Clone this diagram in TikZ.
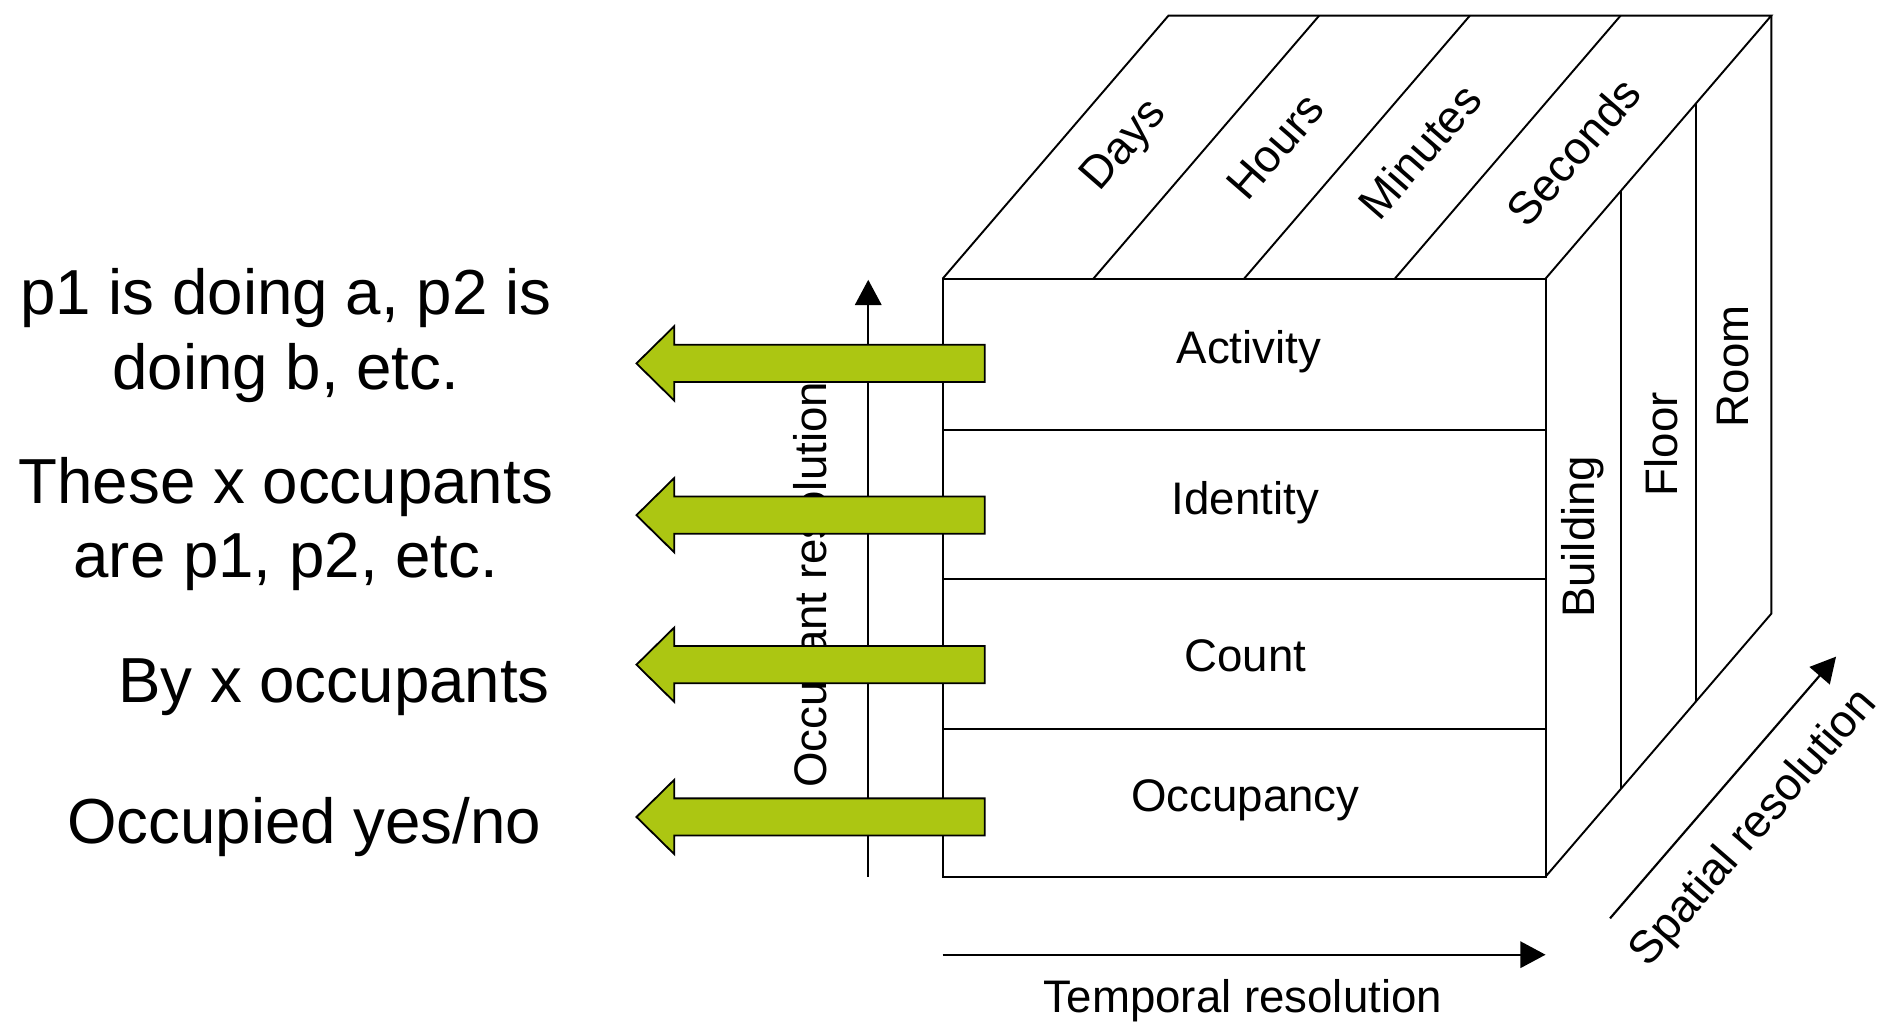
\documentclass[tikz,border=0pt]{standalone}
\usepackage{fontspec}
\setmainfont{Liberation Sans}
\usetikzlibrary{arrows.meta}
\definecolor{leaf}{RGB}{172,198,18}

\begin{document}
\begin{tikzpicture}[x=1pt,y=-1pt,
  edge/.style={line width=1.6pt, line join=miter},
  axis/.style={line width=1.8pt, -{Triangle[length=21pt,width=22pt]}},
  cubelabel/.style={font=\fontsize{38}{45}\selectfont, inner sep=0pt},
  note/.style={font=\fontsize{53}{62}\selectfont, inner sep=0pt, align=center},
  greenarrow/.style={fill=leaf, draw=black, line width=1.5pt, line join=miter}]

\useasboundingbox (0,0) rectangle (1568,854);

% ---- cube corners ----
\coordinate (F1) at (785,232);   % front top left
\coordinate (F2) at (1287,232);  % front top right
\coordinate (F3) at (1287,730);  % front bottom right
\coordinate (F4) at (785,730);   % front bottom left
\coordinate (B1) at (973,13);    % back top left
\coordinate (B2) at (1475,13);   % back top right
\coordinate (B3) at (1475,511);  % back bottom right

% front face with its four layers
\draw[edge] (F1) -- (F2) -- (F3) -- (F4) -- cycle;
\foreach \yy in {358,482,607}
  \draw[edge] (785,\yy) -- (1287,\yy);

% top face, split into four time strips
\draw[edge] (F1) -- (B1) -- (B2) -- (F2);
\foreach \xx in {910.5,1036,1161.5}
  \draw[edge] (\xx,232) -- ++(188,-219);

% right face, split into three space strips
\draw[edge] (F3) -- (B3) -- (B2);
\draw[edge] (1349.7,159) -- (1349.7,657);
\draw[edge] (1412.3,86) -- (1412.3,584);

% ---- labels on the cube ----
\node[cubelabel] (act) at (1040,293) {Activity};
\node[cubelabel] (ide) at (1037,419) {Identity};
\node[cubelabel] (cnt) at (1037,546) {Count};
\node[cubelabel] (occ) at (1037,666) {Occupancy};

\node[cubelabel, rotate=49] (days) at (937,122) {Days};
\node[cubelabel, rotate=49] (hours) at (1062,122) {Hours};
\node[cubelabel, rotate=49] (mins) at (1182,126) {Minutes};
\node[cubelabel, rotate=49] (secs) at (1310,126) {Seconds};

\node[cubelabel, rotate=90] (bld) at (1318,447) {Building};
\node[cubelabel, rotate=90] (flr) at (1383,370) {Floor};
\node[cubelabel, rotate=90] (room) at (1443,305) {Room};

% ---- resolution axes ----
\coordinate (tStart) at (785,795);
\coordinate (tEnd) at (1287,795);
\draw[axis] (tStart) -- (tEnd);
\node[cubelabel] (tlab) at (1035,833) {Temporal resolution};

\coordinate (sStart) at (1340.7,764.7);
\coordinate (sEnd) at (1528.9,546.8);
\draw[axis] (sStart) -- (sEnd);
\node[cubelabel, rotate=49] (slab) at (1461,690) {Spatial resolution};

\coordinate (oStart) at (723,730);
\coordinate (oEnd) at (723,233);
\draw[axis] (oStart) -- (oEnd);
\node[cubelabel, rotate=90] (olab) at (678,487) {Occupant resolution};

% ---- descriptions on the left (base = baseline of the last line) ----
\node[note, anchor=base] (d1) at (238,324) {p1 is doing a, p2 is\\doing b, etc.};
\node[note, anchor=base] (d2) at (238,481) {These x occupants\\are p1, p2, etc.};
\node[note, anchor=base east] (d3) at (458,585) {By x occupants};
\node[note, anchor=base east] (d4) at (451,702) {Occupied yes/no};

% ---- green arrows leaving each layer ----
\foreach \cy in {302.6,429,553.5,680.3}
  \draw[greenarrow] (820,\cy-15.5) -- (561.5,\cy-15.5) -- (561.5,\cy-31)
    -- (530,\cy) -- (561.5,\cy+31) -- (561.5,\cy+15.5) -- (820,\cy+15.5) -- cycle;

\end{tikzpicture}
\end{document}
